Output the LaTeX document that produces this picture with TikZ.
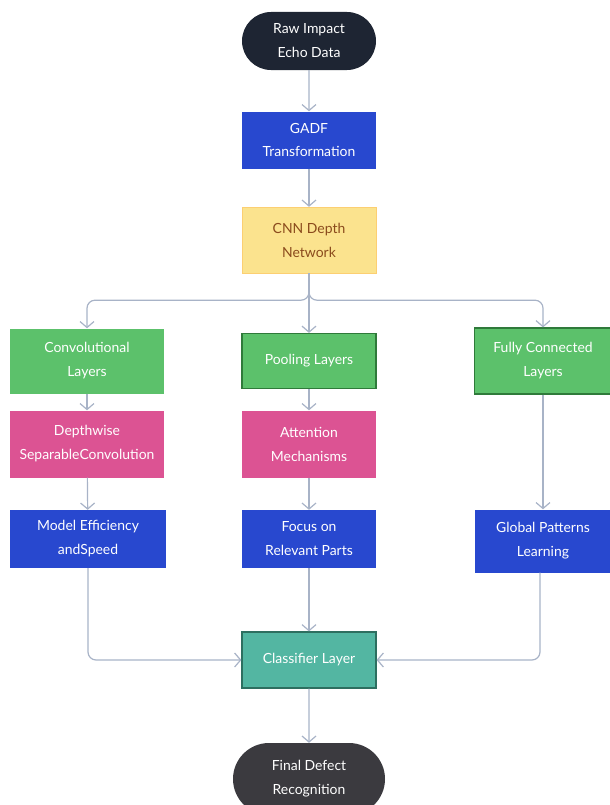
\documentclass[tikz,border=0pt]{standalone}
\usepackage{fontspec}
\setmainfont{Lato}
\usetikzlibrary{arrows.meta,shapes.misc}
\definecolor{cdarkA}{HTML}{1E2533}
\definecolor{cdarkB}{HTML}{3B3A3F}
\definecolor{cblue}{HTML}{2848CF}
\definecolor{cyellow}{HTML}{FBE38E}
\definecolor{cbrown}{HTML}{8A4A1C}
\definecolor{cgreen}{HTML}{5CC16B}
\definecolor{cgreenB}{HTML}{2F7A3A}
\definecolor{cpink}{HTML}{DC5393}
\definecolor{cteal}{HTML}{53B6A2}
\definecolor{ctealB}{HTML}{2D6F60}
\definecolor{carrow}{HTML}{A8B3C7}
\tikzset{
  base/.style={inner sep=0pt, align=center, text=white, font=\fontsize{14}{24}\selectfont},
  boxA/.style={base, rectangle, minimum width=134bp, minimum height=#1},
  stadium/.style={base, rounded rectangle, fill=#1},
  flow/.style={draw=carrow, line width=1.2bp, -{Straight Barb[length=6bp,width=14bp]}, rounded corners=8bp},
}
\begin{document}
\begin{tikzpicture}[x=1bp,y=-1bp]
\useasboundingbox (0,0) rectangle (610,805);
\clip (0,0) rectangle (610,805);
% nodes
\node[stadium=cdarkA, minimum width=134bp, minimum height=58bp] (raw) at (309,41) {Raw Impact\\Echo Data};
\node[boxA=57bp, fill=cblue] (gadf) at (309,140) {GADF\\Transformation};
\node[boxA=66bp, fill=cyellow, draw=cyellow!80!orange, text=cbrown] (cnn) at (309,240) {CNN Depth\\Network};
\node[boxA=65bp, minimum width=153bp, fill=cgreen] (conv) at (87,361) {Convolutional\\Layers};
\node[boxA=55bp, fill=cgreen, draw=cgreenB, line width=1.2bp] (pool) at (309,361) {Pooling Layers};
\node[boxA=66bp, minimum width=137bp, fill=cgreen, draw=cgreenB, line width=1.2bp] (fc) at (543,361) {Fully Connected\\Layers};
\node[boxA=67bp, minimum width=153bp, fill=cpink] (dw) at (87,444) {Depthwise\\SeparableConvolution};
\node[boxA=67bp, fill=cpink] (att) at (309,444) {Attention\\Mechanisms};
\node[boxA=58bp, minimum width=155bp, fill=cblue] (eff) at (88,539) {Model Efficiency\\andSpeed};
\node[boxA=58bp, fill=cblue] (focus) at (309,539) {Focus on\\Relevant Parts};
\node[boxA=63bp, minimum width=137bp, fill=cblue] (glob) at (543,541) {Global Patterns\\Learning};
\node[boxA=56bp, fill=cteal, draw=ctealB, line width=1.2bp] (cls) at (309,660) {Classifier Layer};
\node[stadium=cdarkB, minimum width=152bp, minimum height=72bp] (fin) at (309,779) {Final Defect\\Recognition};
% connectors
\draw[flow] (raw) -- (gadf);
\draw[flow] (gadf) -- (cnn);
\draw[flow] (cnn.south) -- ++(0,27) -| (conv.north);
\draw[flow] (cnn.south) -- (pool.north);
\draw[flow] (cnn.south) -- ++(0,27) -| (fc.north);
\draw[flow] (conv) -- (dw);
\draw[flow] (dw) -- (eff);
\draw[flow] (pool) -- (att);
\draw[flow] (att) -- (focus);
\draw[flow] (fc.south) -- (glob.north);
\draw[flow] (eff.south) |- (cls.west);
\draw[flow] (focus) -- (cls);
\draw[flow] (glob.south) ++(-3,0) coordinate (gs) (gs) |- (cls.east);
\draw[flow] (cls) -- (fin);
\end{tikzpicture}
\end{document}
